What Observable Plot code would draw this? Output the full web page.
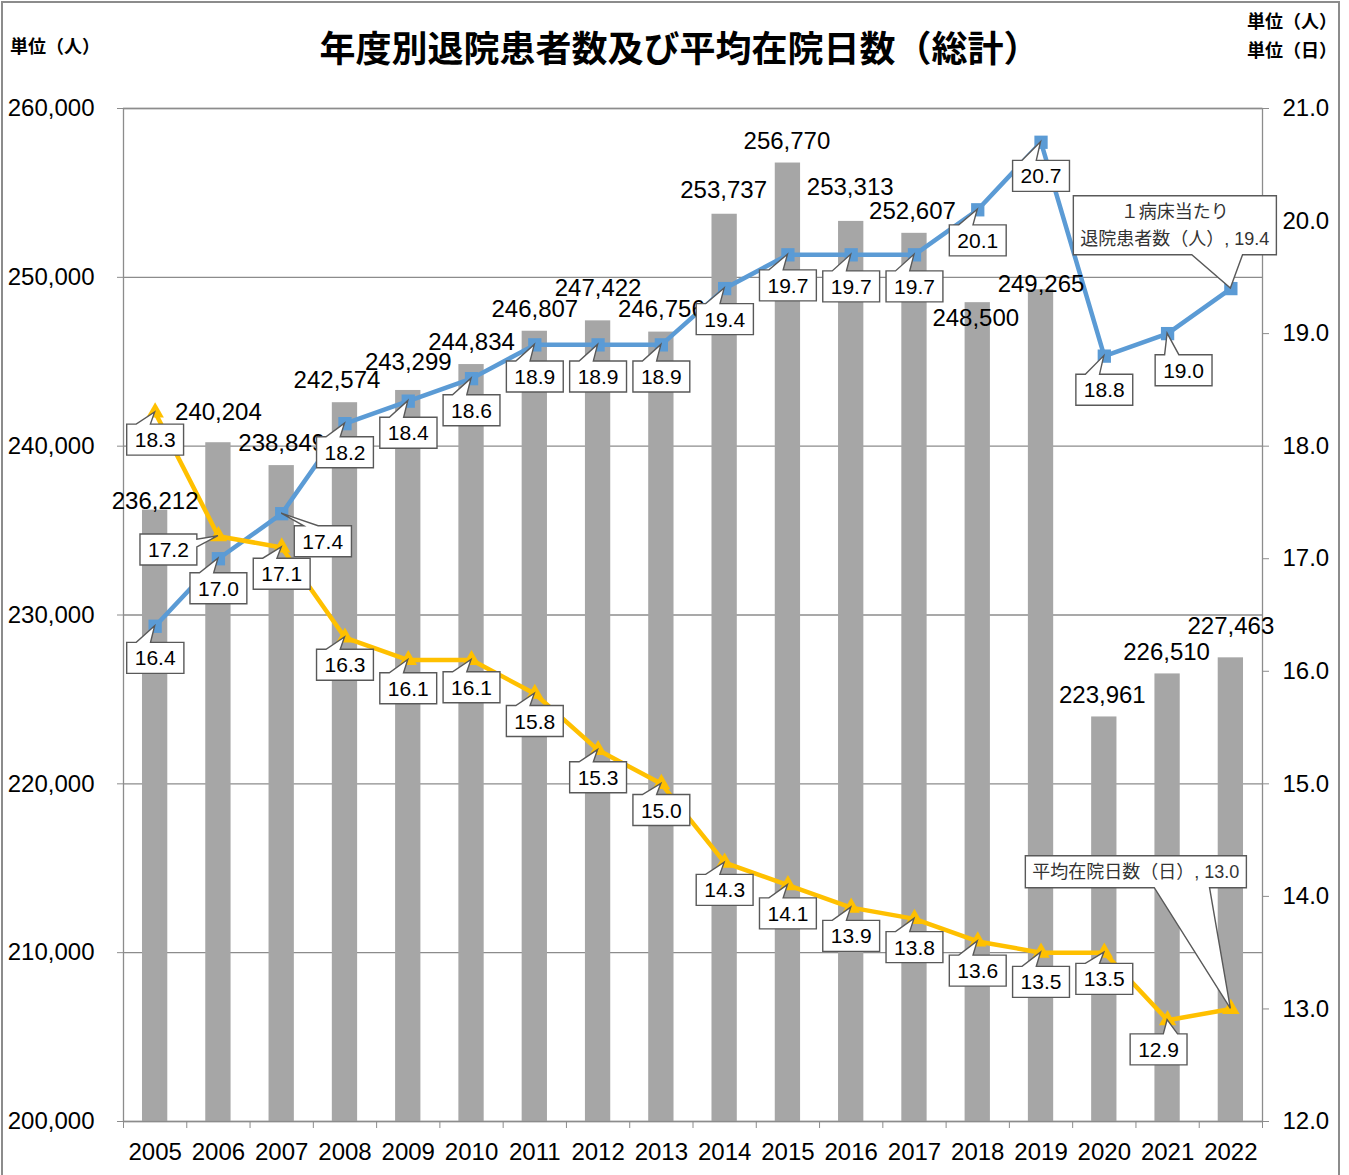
<!DOCTYPE html>
<html lang="ja">
<head>
<meta charset="utf-8">
<script src="https://cdn.jsdelivr.net/npm/d3@7"></script>
<script src="https://cdn.jsdelivr.net/npm/@observablehq/plot@0.6"></script>
<style>
  html, body { margin: 0; padding: 0; background: #fff; }
  #wrap { position: relative; width: 1349px; height: 1175px; overflow: hidden; background: #fff; }
  #border { position: absolute; left: 1px; top: 1px; width: 1335px; height: 1200px; border: 2px solid #8c8c8c; pointer-events: none; }
  #header { position: relative; height: 70px; font-family: "Noto Sans CJK JP", sans-serif; font-weight: 700; color: #000; }
  #title { position: absolute; left: 0; right: 0; top: 24px; text-align: center; font-size: 36px; line-height: 44px; padding-left: 10px; }
  #unitL { position: absolute; left: 10px; top: 32px; font-size: 18px; line-height: 26px; }
  #unitR { position: absolute; right: 12px; top: 6px; font-size: 18px; line-height: 29px; text-align: right; }
  #chart svg { display: block; }
</style>
</head>
<body>
<div id="wrap">
  <div id="header">
    <div id="unitL">単位（人）</div>
    <div id="title">年度別退院患者数及び平均在院日数（総計）</div>
    <div id="unitR">単位（人）<br>単位（日）</div>
  </div>
  <div id="chart"></div>
  <div id="border"></div>
</div>
<script>
// ---- data ----
const years = [2005, 2006, 2007, 2008, 2009, 2010, 2011, 2012, 2013, 2014, 2015, 2016, 2017, 2018, 2019, 2020, 2021, 2022];
const patients = [236212, 240204, 238849, 242574, 243299, 244834, 246807, 247422, 246756, 253737, 256770, 253313, 252607, 248500, 249265, 223961, 226510, 227463];
const perBed = [16.4, 17.0, 17.4, 18.2, 18.4, 18.6, 18.9, 18.9, 18.9, 19.4, 19.7, 19.7, 19.7, 20.1, 20.7, 18.8, 19.0, 19.4];
const avgStay = [18.3, 17.2, 17.1, 16.3, 16.1, 16.1, 15.8, 15.3, 15.0, 14.3, 14.1, 13.9, 13.8, 13.6, 13.5, 13.5, 12.9, 13.0];
const leftTicks = [200000, 210000, 220000, 230000, 240000, 250000, 260000];
const rightTicks = [12, 13, 14, 15, 16, 17, 18, 19, 20, 21];
const seriesNames = ["１病床当たり\n退院患者数（人）", "平均在院日数（日）"];

// ---- layout (pixel offsets of labels) ----
const barLabelDx = [0, 0, 0, -8, 0, 0, 0, 0, 0, -1, -1, -1, -2, -2, 0, -2, -1, 0];
const barLabelDy = [-9, -30, -22, -22, -28, -22, -22, -33, -23, -24, -22, -34, -22, 16, -5, -22, -22, -32];
const blueOff = [[0,29],[0,27],[41,25],[0,26],[0,29],[0,29],[0,29],[0,29],[0,29],[0,28],[0,28],[0,29],[0,29],[0,28],[0,31],[0,31],[16,34],[-56,-66]];
const yellowOff = [[0,28],[-50,14],[0,27],[0,28],[0,29],[0,28],[0,28],[0,28],[0,27],[0,28],[0,29],[0,29],[0,29],[0,30],[0,30],[0,27],[-9,30],[-95,-137]];

const colBar = "#A6A6A6", colBlue = "#5B9BD5", colYellow = "#FFC000", colGrid = "#8c8c8c";
const fontFamily = '"Liberation Sans", Arial, "Noto Sans CJK JP", sans-serif';

const lMin = leftTicks[0], lMax = leftTicks[leftTicks.length - 1];
const rMin = rightTicks[0], rMax = rightTicks[rightTicks.length - 1];
const toLeft = v => lMin + (v - rMin) / (rMax - rMin) * (lMax - lMin);
const fromLeft = d => rMin + (d - lMin) / (lMax - lMin) * (rMax - rMin);

const rows = years.map((year, i) => ({year, patients: patients[i], perBed: perBed[i], avgStay: avgStay[i]}));
const boundaries = [...years.map(y => y - 0.5), years[years.length - 1] + 0.5];
const fmt = d3.format(",");

const barLabels = rows.map((r, i) => Plot.text([r], {
  x: "year", y: "patients", text: d => fmt(d.patients),
  dx: barLabelDx[i], dy: barLabelDy[i], fontSize: 24, fill: "#000"
}));

const callouts = [];
const blueLabels = rows.map((r, i) => {
  const last = i === rows.length - 1;
  const id = `callout-b-${i}`;
  callouts.push({id, year: r.year, y: toLeft(r.perBed), big: last});
  return Plot.text([r], {
    x: "year", y: d => toLeft(d.perBed),
    text: d => last ? `${seriesNames[0]}, ${d.perBed.toFixed(1)}` : d.perBed.toFixed(1),
    dx: blueOff[i][0], dy: blueOff[i][1], fontSize: last ? 18 : 21, lineHeight: 1.5,
    fill: last ? "#333" : "#000", ariaLabel: () => id, ariaDescription: id
  });
});
const yellowLabels = rows.map((r, i) => {
  const last = i === rows.length - 1;
  const id = `callout-y-${i}`;
  callouts.push({id, year: r.year, y: toLeft(r.avgStay), big: last});
  return Plot.text([r], {
    x: "year", y: d => toLeft(d.avgStay),
    text: d => last ? `${seriesNames[1]}, ${d.avgStay.toFixed(1)}` : d.avgStay.toFixed(1),
    dx: yellowOff[i][0], dy: yellowOff[i][1], fontSize: last ? 18 : 21,
    fill: last ? "#333" : "#000", ariaLabel: () => id, ariaDescription: id
  });
});

const plot = Plot.plot({
  width: 1349, height: 1105,
  marginLeft: 123, marginRight: 87, marginTop: 38, marginBottom: 54,
  style: {fontFamily, fontSize: "24px", color: "#000", background: "transparent", overflow: "visible"},
  x: {type: "linear", domain: [boundaries[0], boundaries[boundaries.length - 1]]},
  y: {domain: [lMin, lMax]},
  marks: [
    Plot.ruleY(leftTicks, {stroke: colGrid, strokeWidth: 1.3}),
    Plot.rectY(rows, {x1: d => d.year - 0.2, x2: d => d.year + 0.2, y1: lMin, y2: "patients", fill: colBar}),
    Plot.frame({stroke: colGrid, strokeWidth: 1.3}),
    Plot.axisY(leftTicks, {anchor: "left", tickSize: 6, tickPadding: 23, tickFormat: fmt, stroke: colGrid, fill: "#000", fontSize: 24, label: null}),
    Plot.axisY(rightTicks.map(toLeft), {anchor: "right", tickSize: 6, tickPadding: 14, tickFormat: d => fromLeft(d).toFixed(1), stroke: colGrid, fill: "#000", fontSize: 24, label: null}),
    Plot.axisX(boundaries, {tickSize: 7, tickFormat: () => "", stroke: colGrid, label: null}),
    Plot.axisX(years, {tickSize: 0, tickPadding: 21, tickFormat: d => String(d), fill: "#000", fontSize: 24, label: null}),
    Plot.line(rows, {x: "year", y: d => toLeft(d.perBed), stroke: colBlue, strokeWidth: 4.5, strokeLinejoin: "round"}),
    Plot.dot(rows, {x: "year", y: d => toLeft(d.perBed), symbol: "square", r: 7.5, fill: colBlue}),
    Plot.line(rows, {x: "year", y: d => toLeft(d.avgStay), stroke: colYellow, strokeWidth: 4.5, strokeLinejoin: "round"}),
    Plot.dot(rows, {x: "year", y: d => toLeft(d.avgStay), symbol: "triangle", r: 6.5, fill: colYellow}),
    ...barLabels,
    ...blueLabels,
    ...yellowLabels
  ]
});
document.getElementById("chart").append(plot);

// ---- draw callout boxes (rectangle with wedge pointing at the data point) ----
function calloutPath(x0, y0, x1, y1, ax, ay) {
  const w = x1 - x0, h = y1 - y0, cx = (x0 + x1) / 2, cy = (y0 + y1) / 2;
  const dx = (ax - cx) / w, dy = (ay - cy) / h;
  if (Math.abs(dy) >= Math.abs(dx)) {
    const right = ax > cx + 0.5;
    const b1 = x0 + w * (right ? 7 : 2) / 12, b2 = x0 + w * (right ? 10 : 5) / 12;
    if (dy < 0) return `M${x0},${y0}H${b1}L${ax},${ay}L${b2},${y0}H${x1}V${y1}H${x0}Z`;
    return `M${x0},${y0}H${x1}V${y1}H${b2}L${ax},${ay}L${b1},${y1}H${x0}Z`;
  } else {
    const down = ay > cy + 0.5;
    const c1 = y0 + h * (down ? 7 : 2) / 12, c2 = y0 + h * (down ? 10 : 5) / 12;
    if (dx < 0) return `M${x0},${y0}H${x1}V${y1}H${x0}V${c2}L${ax},${ay}L${x0},${c1}Z`;
    return `M${x0},${y0}H${x1}V${c1}L${ax},${ay}L${x1},${c2}V${y1}H${x0}Z`;
  }
}
try {
  const svg = plot.tagName.toLowerCase() === "svg" ? plot : plot.querySelector("svg");
  const xs = plot.scale("x"), ys = plot.scale("y");
  for (const c of callouts) {
    let t = null, g = null;
    const el = svg.querySelector(`[aria-label="${c.id}"]`);
    if (el) { t = el.tagName.toLowerCase() === "text" ? el : el.querySelector("text"); g = t ? t.parentNode : null; }
    if (!t) {
      const gd = svg.querySelector(`g[aria-description="${c.id}"]`);
      if (gd) { g = gd; t = gd.querySelector("text"); }
    }
    if (!t || !g) continue;
    const bb = t.getBBox();
    const tm = t.getCTM(), pm = g.getCTM();
    const ox = tm && pm ? tm.e - pm.e : 0, oy = tm && pm ? tm.f - pm.f : 0;
    const pe = pm ? pm.e : 0, pf = pm ? pm.f : 0;
    const padX = c.big ? 7 : 8, padY = c.big ? 6 : 4;
    const x0 = bb.x + ox - padX, x1 = bb.x + ox + bb.width + padX;
    const y0 = bb.y + oy - padY, y1 = bb.y + oy + bb.height + padY;
    const ax = xs.apply(c.year) - pe, ay = ys.apply(c.y) - pf;
    const p = document.createElementNS("http://www.w3.org/2000/svg", "path");
    p.setAttribute("d", calloutPath(x0, y0, x1, y1, ax, ay));
    p.setAttribute("fill", "#fff");
    p.setAttribute("stroke", "#595959");
    p.setAttribute("stroke-width", "1.4");
    g.insertBefore(p, t);
  }
} catch (e) {
  console.error(e);
}
</script>
</body>
</html>
